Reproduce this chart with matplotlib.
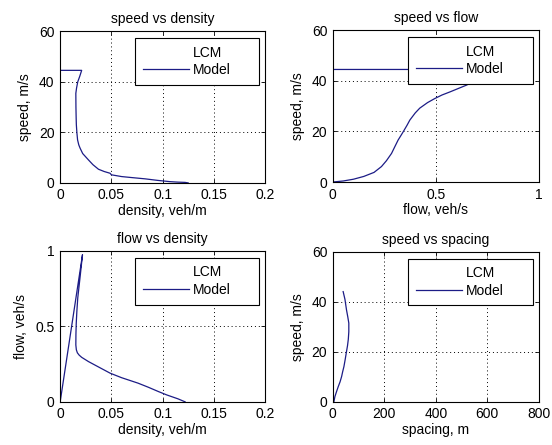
import matplotlib.pyplot as plt
from matplotlib.lines import Line2D

# --- values ---
# speed vs density
density_sd = [0.0, 0.021, 0.019, 0.0172, 0.016, 0.0153, 0.0154, 0.0156, 0.0158,
              0.0163, 0.017, 0.0182, 0.0195, 0.022, 0.0276, 0.032, 0.0374,
              0.043, 0.0488, 0.050, 0.060, 0.070, 0.083, 0.095, 0.107, 0.115,
              0.122, 0.125]
speed_sd = [44.5, 44.5, 42.0, 40.0, 37.5, 35.4, 30.0, 26.0, 23.0,
            20.0, 17.0, 15.0, 13.7, 11.6, 9.1, 7.2, 5.4,
            4.5, 3.8, 3.2, 2.5, 2.1, 1.6, 1.0, 0.5, 0.3,
            0.2, 0.0]

# speed vs flow
flow_sf = [0.0, 0.93, 0.80, 0.69, 0.649, 0.61, 0.568, 0.53, 0.495, 0.46,
           0.422, 0.40, 0.374, 0.36, 0.342, 0.33, 0.317, 0.30, 0.285, 0.26,
           0.236, 0.20, 0.15, 0.10, 0.05, 0.0]
speed_sf = [44.5, 44.5, 42.5, 40.0, 38.3, 37.0, 35.6, 34.4, 33.0, 31.4,
            29.2, 27.3, 24.5, 22.4, 19.9, 18.3, 16.6, 13.8, 11.3, 8.4,
            6.1, 3.8, 2.2, 1.1, 0.4, 0.0]

# flow vs density
density_fd = [0.0, 0.0218, 0.0195, 0.0172, 0.0163, 0.0157, 0.0154, 0.0153,
              0.0158, 0.0168, 0.0185, 0.021, 0.0276, 0.035, 0.0488, 0.060,
              0.076, 0.086, 0.096, 0.104, 0.115, 0.122]
flow_fd = [0.0, 0.975, 0.83, 0.69, 0.60, 0.52, 0.45, 0.377,
           0.345, 0.325, 0.31, 0.295, 0.267, 0.24, 0.19, 0.16,
           0.124, 0.097, 0.068, 0.046, 0.02, 0.0]

# speed vs spacing
spacing_ss = [40, 47, 53, 58, 62, 62, 60, 57, 53, 48, 43, 38, 34, 28, 21, 14, 8, 4]
speed_ss = [44.1, 41.0, 36.8, 34.0, 31.5, 28.0, 25.0, 22.5, 20.1, 17.0,
            14.1, 12.0, 10.1, 8.0, 6.1, 4.0, 2.1, 0.0]

# axis ticks
dens_ticks = [0, 0.05, 0.1, 0.15, 0.2]
dens_labels = ['0', '0.05', '0.1', '0.15', '0.2']
speed_ticks = [0, 20, 40, 60]
flow_ticks = [0, 0.5, 1]
flow_labels = ['0', '0.5', '1']
spacing_ticks = [0, 200, 400, 600, 800]

legend_labels = ['LCM', 'Model']

plt.rcParams['font.family'] = ['Liberation Sans', 'DejaVu Sans']
plt.rcParams['font.size'] = 10

line_col = '#1c1c86'

fig = plt.figure(figsize=(5.52, 4.45), dpi=100)
ax1 = fig.add_axes([0.109, 0.589, 0.371, 0.341])
ax2 = fig.add_axes([0.603, 0.591, 0.373, 0.341])
ax3 = fig.add_axes([0.109, 0.097, 0.371, 0.339])
ax4 = fig.add_axes([0.603, 0.097, 0.373, 0.337])


def style(ax, xt, xl, yt, yl, xlim, ylim, title, xlabel, ylabel):
    ax.set_xlim(xlim)
    ax.set_ylim(ylim)
    ax.set_xticks(xt)
    ax.set_xticklabels(xl)
    ax.set_yticks(yt)
    ax.set_yticklabels(yl)
    ax.tick_params(direction='in', length=3, width=0.6, top=True, right=True,
                   pad=4, colors='black')
    for sp in ax.spines.values():
        sp.set_linewidth(0.8)
        sp.set_color('black')
    ax.grid(True, color='black', linestyle=(0, (1, 3)), linewidth=0.7)
    ax.set_title(title, pad=6, fontsize=10)
    ax.set_xlabel(xlabel, labelpad=1)
    ax.set_ylabel(ylabel, labelpad=5)
    handles = [Line2D([], [], linestyle='None'),
               Line2D([], [], color=line_col, linewidth=0.9)]
    leg = ax.legend(handles, legend_labels, loc='upper left',
                    bbox_to_anchor=(0.366, 0.955, 0.605, 0.0), mode='expand',
                    handlelength=3.3, handletextpad=0.3, borderpad=0.55,
                    labelspacing=0.25, fancybox=False, framealpha=1,
                    edgecolor='black', borderaxespad=0)
    leg.get_frame().set_linewidth(0.8)


ax1.plot(density_sd, speed_sd, color=line_col, linewidth=0.9)
style(ax1, dens_ticks, dens_labels, speed_ticks, [str(v) for v in speed_ticks],
      (0, 0.2), (0, 60), 'speed vs density', 'density, veh/m', 'speed, m/s')

ax2.plot(flow_sf, speed_sf, color=line_col, linewidth=0.9)
style(ax2, flow_ticks, flow_labels, speed_ticks, [str(v) for v in speed_ticks],
      (0, 1), (0, 60), 'speed vs flow', 'flow, veh/s', 'speed, m/s')

ax3.plot(density_fd, flow_fd, color=line_col, linewidth=0.9)
style(ax3, dens_ticks, dens_labels, flow_ticks, flow_labels,
      (0, 0.2), (0, 1), 'flow vs density', 'density, veh/m', 'flow, veh/s')

ax4.plot(spacing_ss, speed_ss, color=line_col, linewidth=0.9)
style(ax4, spacing_ticks, [str(v) for v in spacing_ticks], speed_ticks,
      [str(v) for v in speed_ticks], (0, 800), (0, 60), 'speed vs spacing',
      'spacing, m', 'speed, m/s')

fig.savefig('out.png', dpi=100)
